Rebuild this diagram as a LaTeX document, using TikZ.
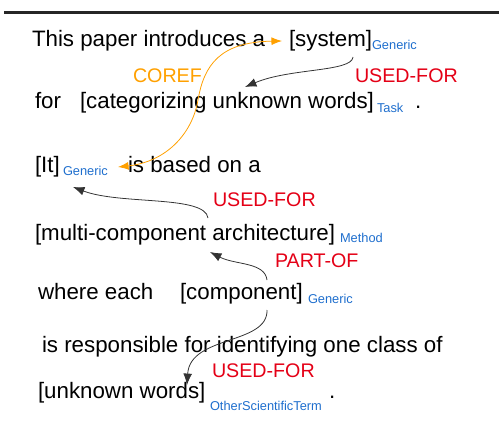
\documentclass[tikz,border=0pt]{standalone}
\usepackage{fontspec}
\setmainfont{Liberation Sans}
\usetikzlibrary{arrows.meta}
\definecolor{typeblue}{RGB}{30,110,205}
\definecolor{relred}{RGB}{228,0,22}
\definecolor{corefor}{RGB}{255,160,0}
\begin{document}
\begin{tikzpicture}[x=0.02cm, y=-0.02cm,
    every node/.style={anchor=base west, inner sep=0pt, outer sep=0pt},
    txt/.style={font=\fontsize{12.7pt}{15pt}\selectfont},
    typ/.style={font=\fontsize{7.3pt}{9pt}\selectfont, text=typeblue},
    rel/.style={font=\fontsize{11.2pt}{13pt}\selectfont, text=relred},
    corefl/.style={font=\fontsize{11.2pt}{13pt}\selectfont, text=corefor},
    link/.style={draw=black!80, line width=0.45pt, -{Latex[length=6.5pt,width=5pt]}},
    corefline/.style={draw=corefor, line width=0.45pt,
        {Latex[length=6pt,width=4.5pt]}-{Latex[length=6pt,width=4.5pt]}}]
    \useasboundingbox (0,0) rectangle (499,428);
    \draw[line width=1.7pt, black!85] (4,12.5) -- (499,12.5);

    \node[txt] (intro) at (32,47) {This paper introduces a};
    \node[txt] (system) at (289,47) {[system]};
    \node[typ] (systype) at (372,50) {Generic};
    \node[corefl] (coref) at (133,83) {COREF};
    \node[rel] (relA) at (355,83) {USED-FOR};
    \node[txt] (for) at (35,109) {for};
    \node[txt] (categ) at (80,109) {[categorizing unknown words]};
    \node[typ] (categtype) at (377,113) {Task};
    \node[txt] (stopA) at (415,109) {.};

    \node[txt] (it) at (35,173) {[It]};
    \node[typ] (ittype) at (63,176) {Generic};
    \node[txt] (based) at (128,173) {is based on a};
    \node[rel] (relB) at (213,207) {USED-FOR};
    \node[txt] (arch) at (35,241) {[multi-component architecture]};
    \node[typ] (archtype) at (340,243) {Method};
    \node[rel] (relC) at (275,268) {PART-OF};
    \node[txt] (where) at (38,299) {where each};
    \node[txt] (comp) at (180,299) {[component]};
    \node[typ] (comptype) at (308,303) {Generic};
    \node[txt] (resp) at (42,352) {is responsible for identifying one class of};
    \node[rel] (relD) at (212,377) {USED-FOR};
    \node[txt] (unk) at (38,398) {[unknown words]};
    \node[typ] (unktype) at (210,410) {OtherScientificTerm};
    \node[txt] (stopB) at (329,398) {.};

    \draw[corefline] ([shift={(-10,-6)}]based.base west)
        .. controls (165,162) and (192,135) .. (198,100)
        .. controls (204,65) and (220,42) .. ([shift={(-7,-6)}]system.base west);
    \draw[link] ([shift={(64,10)}]system.base west)
        .. controls (352,72) and (290,68) .. ([shift={(165,-22)}]categ.base west);
    \draw[link] ([shift={(173,-23)}]arch.base west)
        .. controls (205,195) and (120,205) .. ([shift={(10,11)}]ittype.base west);
    \draw[link] ([shift={(87,-19)}]comp.base west)
        .. controls (265,262) and (235,265) .. ([shift={(175,11)}]arch.base west);
    \draw[link] ([shift={(87,11)}]comp.base west)
        .. controls (268,345) and (190,335) .. ([shift={(149,-13)}]unk.base west);
\end{tikzpicture}
\end{document}
